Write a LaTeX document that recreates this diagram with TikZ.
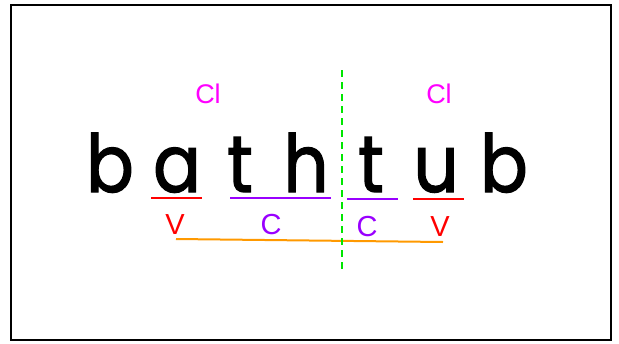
\documentclass[tikz,border=0pt]{standalone}
\usepackage{fontspec}
\setmainfont{Liberation Sans}
\newfontfamily\handfont{Poppins}[FakeBold=1.6, FakeStretch=0.88]
\usetikzlibrary{positioning}
\definecolor{clpink}{RGB}{255,0,255}
\definecolor{vred}{RGB}{255,0,0}
\definecolor{cviolet}{RGB}{153,0,255}
\definecolor{spanorange}{RGB}{255,153,0}
\definecolor{splitgreen}{RGB}{0,230,0}

\begin{document}
\begin{tikzpicture}[
  x=1pt, y=-1pt,
  letter/.style={anchor=base, inner sep=0pt, font=\handfont\fontsize{80}{80}\selectfont},
  tag/.style={anchor=base, inner sep=0pt, font=\fontsize{29}{29}\selectfont},
  cltag/.style={tag, text=clpink, font=\fontsize{27}{27}\selectfont},
  uline/.style={line width=2pt}
]
\useasboundingbox (0,0) rectangle (619,343);
\draw[line width=2pt] (11,5) rectangle (611,340);

% the word
\node[letter] (l1) at (110,192) {b};
\node[letter] (l2) at (177,192) {a};
\node[letter] (l3) at (240,192) {t};
\node[letter] (l4) at (306,192) {h};
\node[letter] (l5) at (371,192) {t};
\node[letter] (l6) at (436,192) {u};
\node[letter] (l7) at (504,192) {b};

% syllable labels
\node[cltag] (cl1) at (208,103) {Cl};
\node[cltag] (cl2) at (439,103) {Cl};

% underlines
\draw[uline, vred] (151,198) -- (202,198);
\draw[uline, cviolet] (230,198) -- (331,198);
\draw[uline, cviolet] (347,199) -- (398,199);
\draw[uline, vred] (413,199) -- (464,199);

\node[tag, text=vred] (v1) at (175,234) {V};
\node[tag, text=cviolet] (c1) at (271,234) {C};
\node[tag, text=cviolet] (c2) at (367,236) {C};
\node[tag, text=vred] (v2) at (440,236) {V};

\coordinate (span1) at (176,239);
\coordinate (span2) at (443,242);
\draw[uline, spanorange] (span1) -- (span2);

% split
\coordinate (top) at (342,70);
\coordinate (bot) at (342,273);
\draw[splitgreen, line width=1.6pt, dash pattern=on 7pt off 5pt] (top) -- (bot);
\end{tikzpicture}
\end{document}
